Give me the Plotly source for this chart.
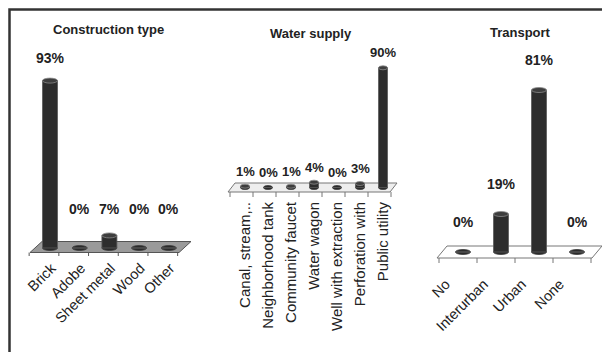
import plotly.graph_objects as go

# ---- data ----
construction_cats = ["Brick", "Adobe", "Sheet metal", "Wood", "Other"]
construction_vals = [93, 0, 7, 0, 0]

water_cats = ["Canal, stream,..", "Neighborhood tank", "Community faucet",
              "Water wagon", "Well with extraction", "Perforation with", "Public utility"]
water_vals = [1, 0, 1, 4, 0, 3, 90]

transport_cats = ["No", "Interurban", "Urban", "None"]
transport_vals = [0, 19, 81, 0]

W, H = 602, 352
FONT = "Liberation Sans, Arial, sans-serif"

# panel geometry in pixels: first category centre, spacing, baseline, px per %,
# bar width, floor edges, skew of the floor, plot box, label settings
panels = [
    dict(title="Construction type", cats=construction_cats, vals=construction_vals,
         c0=50, dx=29.7, base=248, k=1.8, barw=15, eh=2.5,
         front=252.5, back=241.5, fl=30, fr=179, skew=12,
         box=(20, 40, 200, 256), floor_fill="#9a9a9a", floor_line="#555555",
         tick_shift=0.05, tickangle=-45, cat_size=14.5, val_size=14,
         lab_min=9, lab_off=23, title_xy=(108, 30)),
    dict(title="Water supply", cats=water_cats, vals=water_vals,
         c0=245, dx=23, base=187.5, k=1.33, barw=9, eh=2.0,
         front=192, back=183, fl=228, fr=390, skew=7,
         box=(220, 40, 400, 198), floor_fill="#eeeeee", floor_line="#777777",
         tick_shift=0.0, tickangle=-90, cat_size=15, val_size=13,
         lab_min=0, lab_off=15, title_xy=(311, 33)),
    dict(title="Transport", cats=transport_cats, vals=transport_vals,
         c0=463, dx=38, base=252, k=2.0, barw=15, eh=2.5,
         front=258, back=246, fl=437, fr=592, skew=10,
         box=(425, 40, 602, 272), floor_fill="#ffffff", floor_line="#777777",
         tick_shift=-0.45, tickangle=-45, cat_size=14.5, val_size=14,
         lab_min=0, lab_off=30, title_xy=(520, 32)),
]

fig = go.Figure()
shapes, annotations = [], []
layout_axes = {}

for n, p in enumerate(panels, start=1):
    xs = "" if n == 1 else str(n)
    xref, yref = "x" + xs, "y" + xs
    bl, bt, br, bb = p["box"]
    c0, dx, base, k = p["c0"], p["dx"], p["base"], p["k"]
    ncat = len(p["cats"])
    idx = list(range(ncat))

    layout_axes["xaxis" + xs] = dict(
        domain=[bl / W, br / W], range=[(bl - c0) / dx, (br - c0) / dx],
        anchor=yref, showgrid=False, zeroline=False, showline=False, ticks="",
        tickvals=[i + p["tick_shift"] for i in idx], ticktext=p["cats"],
        tickangle=p["tickangle"],
        tickfont=dict(family=FONT, size=p["cat_size"], color="#222222"),
        fixedrange=True)
    layout_axes["yaxis" + xs] = dict(
        domain=[1 - bb / H, 1 - bt / H], range=[(base - bb) / k, (base - bt) / k],
        anchor=xref, showgrid=False, zeroline=False, showline=False,
        showticklabels=False, ticks="", fixedrange=True)

    # floor (parallelogram) in data units
    yf = (base - p["front"]) / k
    yb = (base - p["back"]) / k
    xfl = (p["fl"] - c0) / dx
    xfr = (p["fr"] - c0) / dx
    sk = p["skew"] / dx
    shapes.append(dict(type="path", xref=xref, yref=yref, layer="below",
                       path=f"M {xfl},{yf} L {xfr},{yf} L {xfr + sk},{yb} L {xfl + sk},{yb} Z",
                       fillcolor=p["floor_fill"], line=dict(color=p["floor_line"], width=1)))
    # boundary ticks along the front edge
    tl = 5 / k
    for j in range(ncat + 1):
        xt = j - 0.5 - sk / 2
        shapes.append(dict(type="line", xref=xref, yref=yref, layer="below",
                           x0=xt, x1=xt, y0=yf, y1=yf - tl,
                           line=dict(color=p["floor_line"], width=1)))

    hw = p["barw"] / dx / 2
    eh = p["eh"] / k
    # base ellipses
    for i, v in enumerate(p["vals"]):
        shapes.append(dict(type="circle", xref=xref, yref=yref, layer="below",
                           x0=i - hw, x1=i + hw, y0=-eh, y1=eh,
                           fillcolor="#2a2a2a", line=dict(color="#3a3a3a", width=0.8)))
    # cylinder bodies
    fig.add_trace(go.Bar(x=idx, y=p["vals"], width=2 * hw, xaxis=xref, yaxis=yref,
                         marker=dict(color="#2d2d2d", line=dict(color="#5a5a5a", width=0.8)),
                         showlegend=False, hoverinfo="skip"))
    # cylinder tops
    for i, v in enumerate(p["vals"]):
        if v > 0:
            shapes.append(dict(type="circle", xref=xref, yref=yref, layer="above",
                               x0=i - hw, x1=i + hw, y0=v - eh, y1=v + eh,
                               fillcolor="#3e3e3e", line=dict(color="#8a8a8a", width=0.8)))
    # value labels
    for i, v in enumerate(p["vals"]):
        annotations.append(dict(xref=xref, yref=yref, x=i, y=max(v, p["lab_min"]),
                                yshift=p["lab_off"], text=f"{v}%", showarrow=False,
                                font=dict(family=FONT, size=p["val_size"], color="#222222",
                                          weight="bold"),
                                xanchor="center", yanchor="middle"))
    # panel title
    tx, ty = p["title_xy"]
    annotations.append(dict(xref="paper", yref="paper", x=tx / W, y=1 - ty / H,
                            text=p["title"], showarrow=False,
                            font=dict(family=FONT, size=13, color="#222222", weight="bold"),
                            xanchor="center", yanchor="middle"))

# frame around the figure
shapes.append(dict(type="rect", xref="paper", yref="paper",
                   x0=9.5 / W, x1=1.02, y0=-0.02, y1=1 - 9.5 / H,
                   line=dict(color="#333333", width=2.5), fillcolor="rgba(0,0,0,0)"))

fig.update_layout(width=W, height=H, margin=dict(l=0, r=0, t=0, b=0),
                  paper_bgcolor="white", plot_bgcolor="rgba(0,0,0,0)",
                  shapes=shapes, annotations=annotations, barmode="overlay",
                  **layout_axes)

fig.write_html("out.html")
